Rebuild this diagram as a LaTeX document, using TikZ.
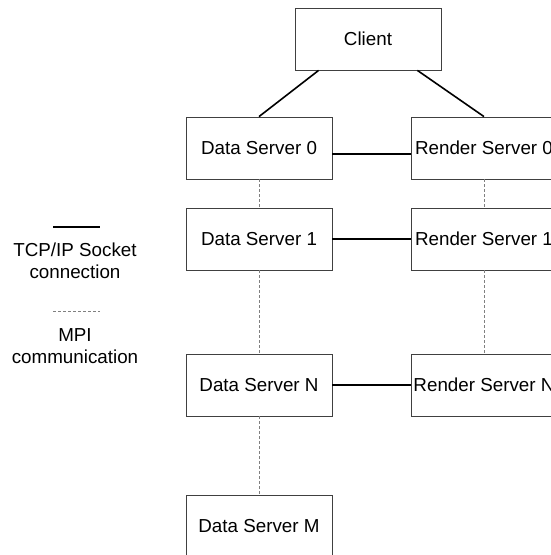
\documentclass[tikz,border=0pt]{standalone}
\usepackage{fontspec}
\setmainfont{Liberation Sans}
\begin{document}
\begin{tikzpicture}[x=1pt,y=-1pt,
  box/.style={draw=black!75, line width=0.8pt, fill=white, minimum width=146pt, minimum height=62pt, inner sep=0pt, font=\fontsize{18.8}{22}\selectfont},
  sock/.style={line width=1.6pt, black},
  mpi/.style={line width=0.9pt, black!50, dash pattern=on 3pt off 2pt},
  legtext/.style={align=center, inner sep=0pt, font=\fontsize{18.8}{22}\selectfont}]
\useasboundingbox (0,0) rectangle (551,555);
\node[box] (client) at (368,39) {Client};
\node[box] (d0) at (259,148) {Data Server 0};
\node[box] (r0) at (484,148) {Render Server 0};
\node[box] (d1) at (259,239) {Data Server 1};
\node[box] (r1) at (484,239) {Render Server 1};
\node[box] (dn) at (259,385) {Data Server N};
\node[box] (rn) at (484,385) {Render Server N};
\node[box] (dm) at (259,526) {Data Server M};
% connectors
\draw[sock] (d0.north) -- ([xshift=24pt]client.south west);
\draw[sock] (r0.north) -- ([xshift=-24pt]client.south east);
\draw[sock] ([yshift=-6pt]d0.east) -- ([yshift=-6pt]r0.west);
\draw[sock] (d1.east) -- (r1.west);
\draw[sock] (dn.east) -- (rn.west);
\draw[mpi] (d0.south) -- (d1.north);
\draw[mpi] (r0.south) -- (r1.north);
\draw[mpi] (d1.south) -- (dn.north);
\draw[mpi] (r1.south) -- (rn.north);
\draw[mpi] (dn.south) -- (dm.north);
% legend
\coordinate (ls1) at (53,227);
\coordinate (ls2) at (100,227);
\draw[sock] (ls1) -- (ls2);
\node[legtext] (lt1) at (75,261) {TCP/IP Socket\\connection};
\coordinate (lm1) at (53,311);
\coordinate (lm2) at (100,311);
\draw[mpi] (lm1) -- (lm2);
\node[legtext] (lt2) at (75,346) {MPI\\communication};
\end{tikzpicture}
\end{document}
